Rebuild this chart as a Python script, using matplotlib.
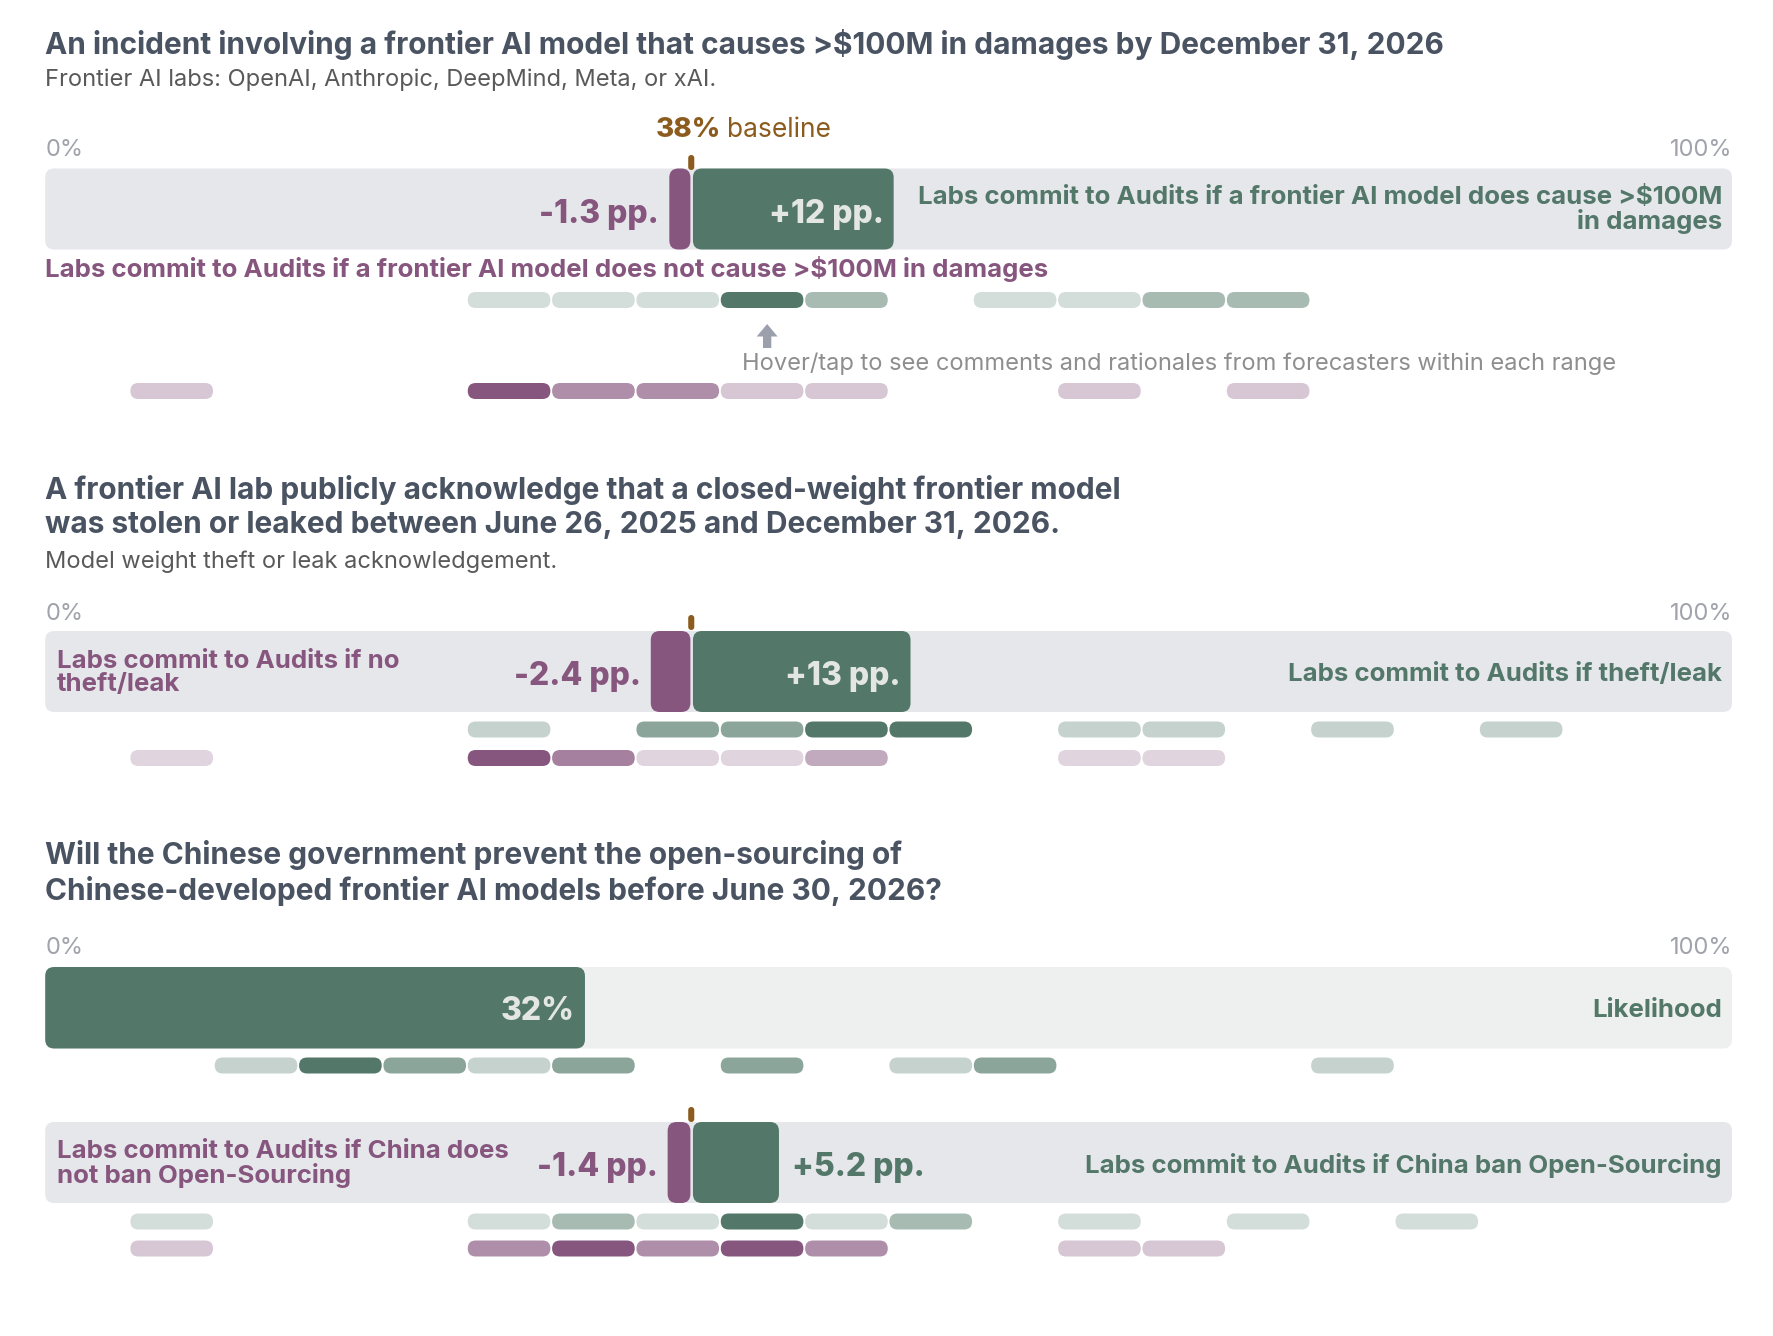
import numpy as np
import matplotlib
matplotlib.use('Agg')
import matplotlib.pyplot as plt
from matplotlib.patches import FancyBboxPatch

plt.rcParams['font.family'] = ['Inter', 'DejaVu Sans']

# ==============================================================================
# Data
baseline = 38.3                    # % labs commit to audits (baseline, shown as 38%)
bin_starts = np.arange(0, 100, 5)  # 5% forecast bins

# Q1: >$100M incident
q1_neg, q1_pos = -1.3, 12
q1_green = [0, 0, 0, 0, 0, 1, 1, 1, 4, 2, 0, 1, 1, 2, 2, 0, 0, 0, 0, 0]
q1_purple = [0, 1, 0, 0, 0, 3, 2, 2, 1, 1, 0, 0, 1, 0, 1, 0, 0, 0, 0, 0]

# Q2: theft / leak
q2_neg, q2_pos = -2.4, 13
q2_green = [0, 0, 0, 0, 0, 1, 0, 2, 2, 3, 3, 0, 1, 1, 0, 1, 0, 1, 0, 0]
q2_purple = [0, 1, 0, 0, 0, 4, 3, 1, 1, 2, 0, 0, 1, 1, 0, 0, 0, 0, 0, 0]

# Q3: China open-sourcing ban
q3_likelihood = 32
q3_like_counts = [0, 0, 1, 3, 2, 1, 2, 0, 2, 0, 1, 2, 0, 0, 0, 1, 0, 0, 0, 0]
q3_neg, q3_pos = -1.4, 5.2
q3_green = [0, 1, 0, 0, 0, 1, 2, 1, 4, 1, 2, 0, 1, 0, 1, 0, 1, 0, 0, 0]
q3_purple = [0, 1, 0, 0, 0, 2, 3, 2, 3, 2, 0, 0, 1, 1, 0, 0, 0, 0, 0, 0]

# ==============================================================================
# Styles
GREEN = '#537869'
PURPLE = '#87567f'
BROWN = '#8c5c1e'
TRACK = '#e6e7eb'
TRACK2 = '#edf0ee'
TITLE_C = '#495361'
SUB_C = '#595959'
AXIS_C = '#a0a3ab'
HOVER_C = '#8e8e8e'
INBAR_C = '#e3e6e4'

W, H = 1774, 1336
LEFT, RIGHT = 45.2, 1732
PX = (RIGHT - LEFT) / 100.0   # pixels per percent

TF = 21.5   # title
SF = 17     # subtitle / hover
AF = 17     # 0% / 100%
LF = 18.6   # bar labels
PF = 23     # pp labels
PW = 800    # pp label weight

fig = plt.figure(figsize=(W / 100, H / 100), dpi=100)
ax = fig.add_axes([0, 0, 1, 1])
ax.set_xlim(-LEFT / PX, (W - LEFT) / PX)
ax.set_ylim(H, 0)
ax.axis('off')


def rbox(x, y, w, h, r, color, alpha=1.0, z=2):
    p = FancyBboxPatch((x, y), w, h,
                       boxstyle=f"round,pad=0,rounding_size={r / PX}",
                       mutation_aspect=PX, fc=color, ec='none', alpha=alpha, zorder=z)
    ax.add_patch(p)


def dash_row(counts, y, color):
    counts = np.asarray(counts, dtype=float)
    cmax = counts.max()
    for b, c in zip(bin_starts, counts):
        if c > 0:
            rbox(b + 0.05, y - 8, 4.9, 16, 8, color, alpha=c / cmax)


def scale_labels(y):
    ax.text(0, y, '0%', color=AXIS_C, fontsize=AF, va='center_baseline', ha='left')
    ax.text(100, y, '100%', color=AXIS_C, fontsize=AF, va='center_baseline', ha='right')


def marker(y):
    rbox(baseline - 0.18, y, 0.36, 15, 3, BROWN, z=3)


def cond_bar(top, neg, pos, h=81):
    rbox(0, top, 100, h, 9, TRACK, z=1)
    rbox(baseline + neg, top, -neg - 0.05, h, 9, PURPLE, z=2)
    rbox(baseline + 0.1, top, pos - 0.1, h, 9, GREEN, z=2)


def pp_label(x, y, s, color, ha='right'):
    ax.text(x, y, s, fontsize=PF, fontweight=PW, color=color, ha=ha,
            va='center_baseline', zorder=4)


# ==============================================================================
# Q1
ax.text(0, 42, 'An incident involving a frontier AI model that causes >$100M in damages by December 31, 2026',
        fontsize=TF, fontweight='bold', color=TITLE_C, va='center_baseline')
ax.text(0, 77, 'Frontier AI labs: OpenAI, Anthropic, DeepMind, Meta, or xAI.',
        fontsize=SF, color=SUB_C, va='center_baseline')
scale_labels(147)
t38 = ax.text(36.2, 143, f'{baseline:.0f}%', fontsize=20, fontweight=PW, color=BROWN, va='bottom')
ax.annotate('baseline', xy=(1, 0), xycoords=t38, xytext=(4, 0), textcoords='offset points',
            fontsize=19, color=BROWN, va='bottom', ha='left')
marker(155)
cond_bar(168.5, q1_neg, q1_pos)
pp_label(baseline + q1_neg - 0.6, 211, f'{q1_neg} pp.', PURPLE)
pp_label(baseline + q1_pos - 0.6, 211, f'+{q1_pos} pp.', INBAR_C)
ax.text(99.4, 210, 'Labs commit to Audits if a frontier AI model does cause >$100M\nin damages',
        fontsize=LF, fontweight='bold', color=GREEN, ha='right', va='center',
        multialignment='right', linespacing=1.05, zorder=4)
ax.text(0, 266, 'Labs commit to Audits if a frontier AI model does not cause >$100M in damages',
        fontsize=LF, fontweight='bold', color=PURPLE, va='center_baseline')
dash_row(q1_green, 300, GREEN)
ax.annotate('', xy=(42.8, 324), xytext=(42.8, 348),
            arrowprops=dict(arrowstyle='simple,head_length=0.6,head_width=1.0,tail_width=0.4',
                            mutation_scale=15, fc='#9ca0ad', ec='none', lw=0,
                            shrinkA=0, shrinkB=0))
ax.text(41.3, 361, 'Hover/tap to see comments and rationales from forecasters within each range',
        fontsize=SF, color=HOVER_C, va='center_baseline')
dash_row(q1_purple, 391, PURPLE)

# ==============================================================================
# Q2
ax.text(0, 507, 'A frontier AI lab publicly acknowledge that a closed-weight frontier model\n'
        'was stolen or leaked between June 26, 2025 and December 31, 2026.',
        fontsize=TF, fontweight='bold', color=TITLE_C, va='center', linespacing=1.27)
ax.text(0, 559, 'Model weight theft or leak acknowledgement.',
        fontsize=SF, color=SUB_C, va='center_baseline')
scale_labels(611)
marker(615)
cond_bar(631, q2_neg, q2_pos)
ax.text(0.67, 673, 'Labs commit to Audits if no\ntheft/leak', fontsize=LF, fontweight='bold',
        color=PURPLE, va='center', linespacing=1.05, zorder=4)
pp_label(baseline + q2_neg - 0.6, 673, f'{q2_neg} pp.', PURPLE)
pp_label(baseline + q2_pos - 0.6, 673, f'+{q2_pos} pp.', INBAR_C)
ax.text(99.4, 672, 'Labs commit to Audits if theft/leak', fontsize=LF, fontweight='bold',
        color=GREEN, ha='right', va='center_baseline', zorder=4)
dash_row(q2_green, 729.5, GREEN)
dash_row(q2_purple, 758, PURPLE)

# ==============================================================================
# Q3
ax.text(0, 873, 'Will the Chinese government prevent the open-sourcing of\n'
        'Chinese-developed frontier AI models before June 30, 2026?',
        fontsize=TF, fontweight='bold', color=TITLE_C, va='center', linespacing=1.27)
scale_labels(945.5)
rbox(0, 967, 100, 81.5, 9, TRACK2, z=1)
rbox(0, 967, q3_likelihood, 81.5, 9, GREEN, z=2)
pp_label(q3_likelihood - 0.6, 1008, f'{q3_likelihood}%', INBAR_C)
ax.text(99.4, 1008, 'Likelihood', fontsize=LF, fontweight='bold',
        color=GREEN, ha='right', va='center_baseline', zorder=4)
dash_row(q3_like_counts, 1065.5, GREEN)

marker(1107)
cond_bar(1122, q3_neg, q3_pos)
ax.text(0.67, 1164, 'Labs commit to Audits if China does\nnot ban Open-Sourcing', fontsize=LF,
        fontweight='bold', color=PURPLE, va='center', linespacing=1.05, zorder=4)
pp_label(baseline + q3_neg - 0.6, 1164, f'{q3_neg} pp.', PURPLE)
pp_label(baseline + q3_pos + 0.8, 1164, f'+{q3_pos} pp.', GREEN, ha='left')
ax.text(99.4, 1163, 'Labs commit to Audits if China ban Open-Sourcing', fontsize=LF,
        fontweight='bold', color=GREEN, ha='right', va='center_baseline', zorder=4)
dash_row(q3_green, 1221.5, GREEN)
dash_row(q3_purple, 1248.5, PURPLE)

fig.savefig('out.png', dpi=100, facecolor='white')
